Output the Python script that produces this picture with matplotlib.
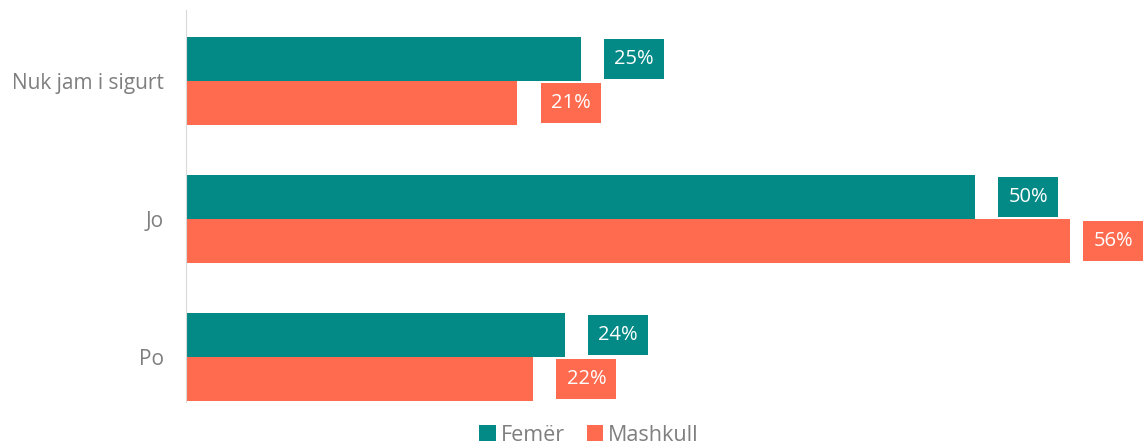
import matplotlib.pyplot as plt
import numpy as np

categories = ["Po", "Jo", "Nuk jam i sigurt"]
femer = [24, 50, 25]
mashkull = [22, 56, 21]
series_names = ["Femër", "Mashkull"]

teal = "#038A87"
coral = "#FF6B4F"
grey = "#7F7F7F"

plt.rcParams['font.family'] = ['Open Sans', 'DejaVu Sans']

fig = plt.figure(figsize=(11.44, 4.45), dpi=100)
ax = fig.add_axes([0.1626, 0.0966, 1 - 0.1626, 0.9775 - 0.0966])

y = np.arange(len(categories))
h = 0.318
ax.barh(y + h / 2, femer, height=h, color=teal, label=series_names[0])
ax.barh(y - h / 2, mashkull, height=h, color=coral, label=series_names[1])

# value labels in coloured boxes to the right of each bar
for yy, v in zip(y + h / 2, femer):
    ax.annotate(f"{v}%", (v, yy), xytext=(24, 0), textcoords="offset points",
                ha="left", va="center", color="white", fontsize=14.5,
                bbox=dict(boxstyle="square,pad=0.5", fc=teal, ec="none"))
for yy, v in zip(y - h / 2, mashkull):
    ax.annotate(f"{v}%", (v, yy), xytext=(17 if v > 50 else 24, 0), textcoords="offset points",
                ha="left", va="center", color="white", fontsize=14.5,
                bbox=dict(boxstyle="square,pad=0.5", fc=coral, ec="none"))

ax.set_xlim(0, 60.7)
ax.set_ylim(-0.325, 2.513)
ax.set_yticks(y)
ax.set_yticklabels(categories, fontsize=15, color=grey)
ax.tick_params(axis="y", length=0, pad=16)
ax.set_xticks([])
for s in ["top", "right", "bottom"]:
    ax.spines[s].set_visible(False)
ax.spines["left"].set_color("#D9D9D9")

fig.legend(loc="lower center", bbox_to_anchor=(0.515, -0.045), ncol=2, frameon=False,
           fontsize=15.5, labelcolor=grey, handlelength=0.75, handleheight=0.75,
           handletextpad=0.25, columnspacing=1.0)

fig.savefig("out.png", dpi=100)
